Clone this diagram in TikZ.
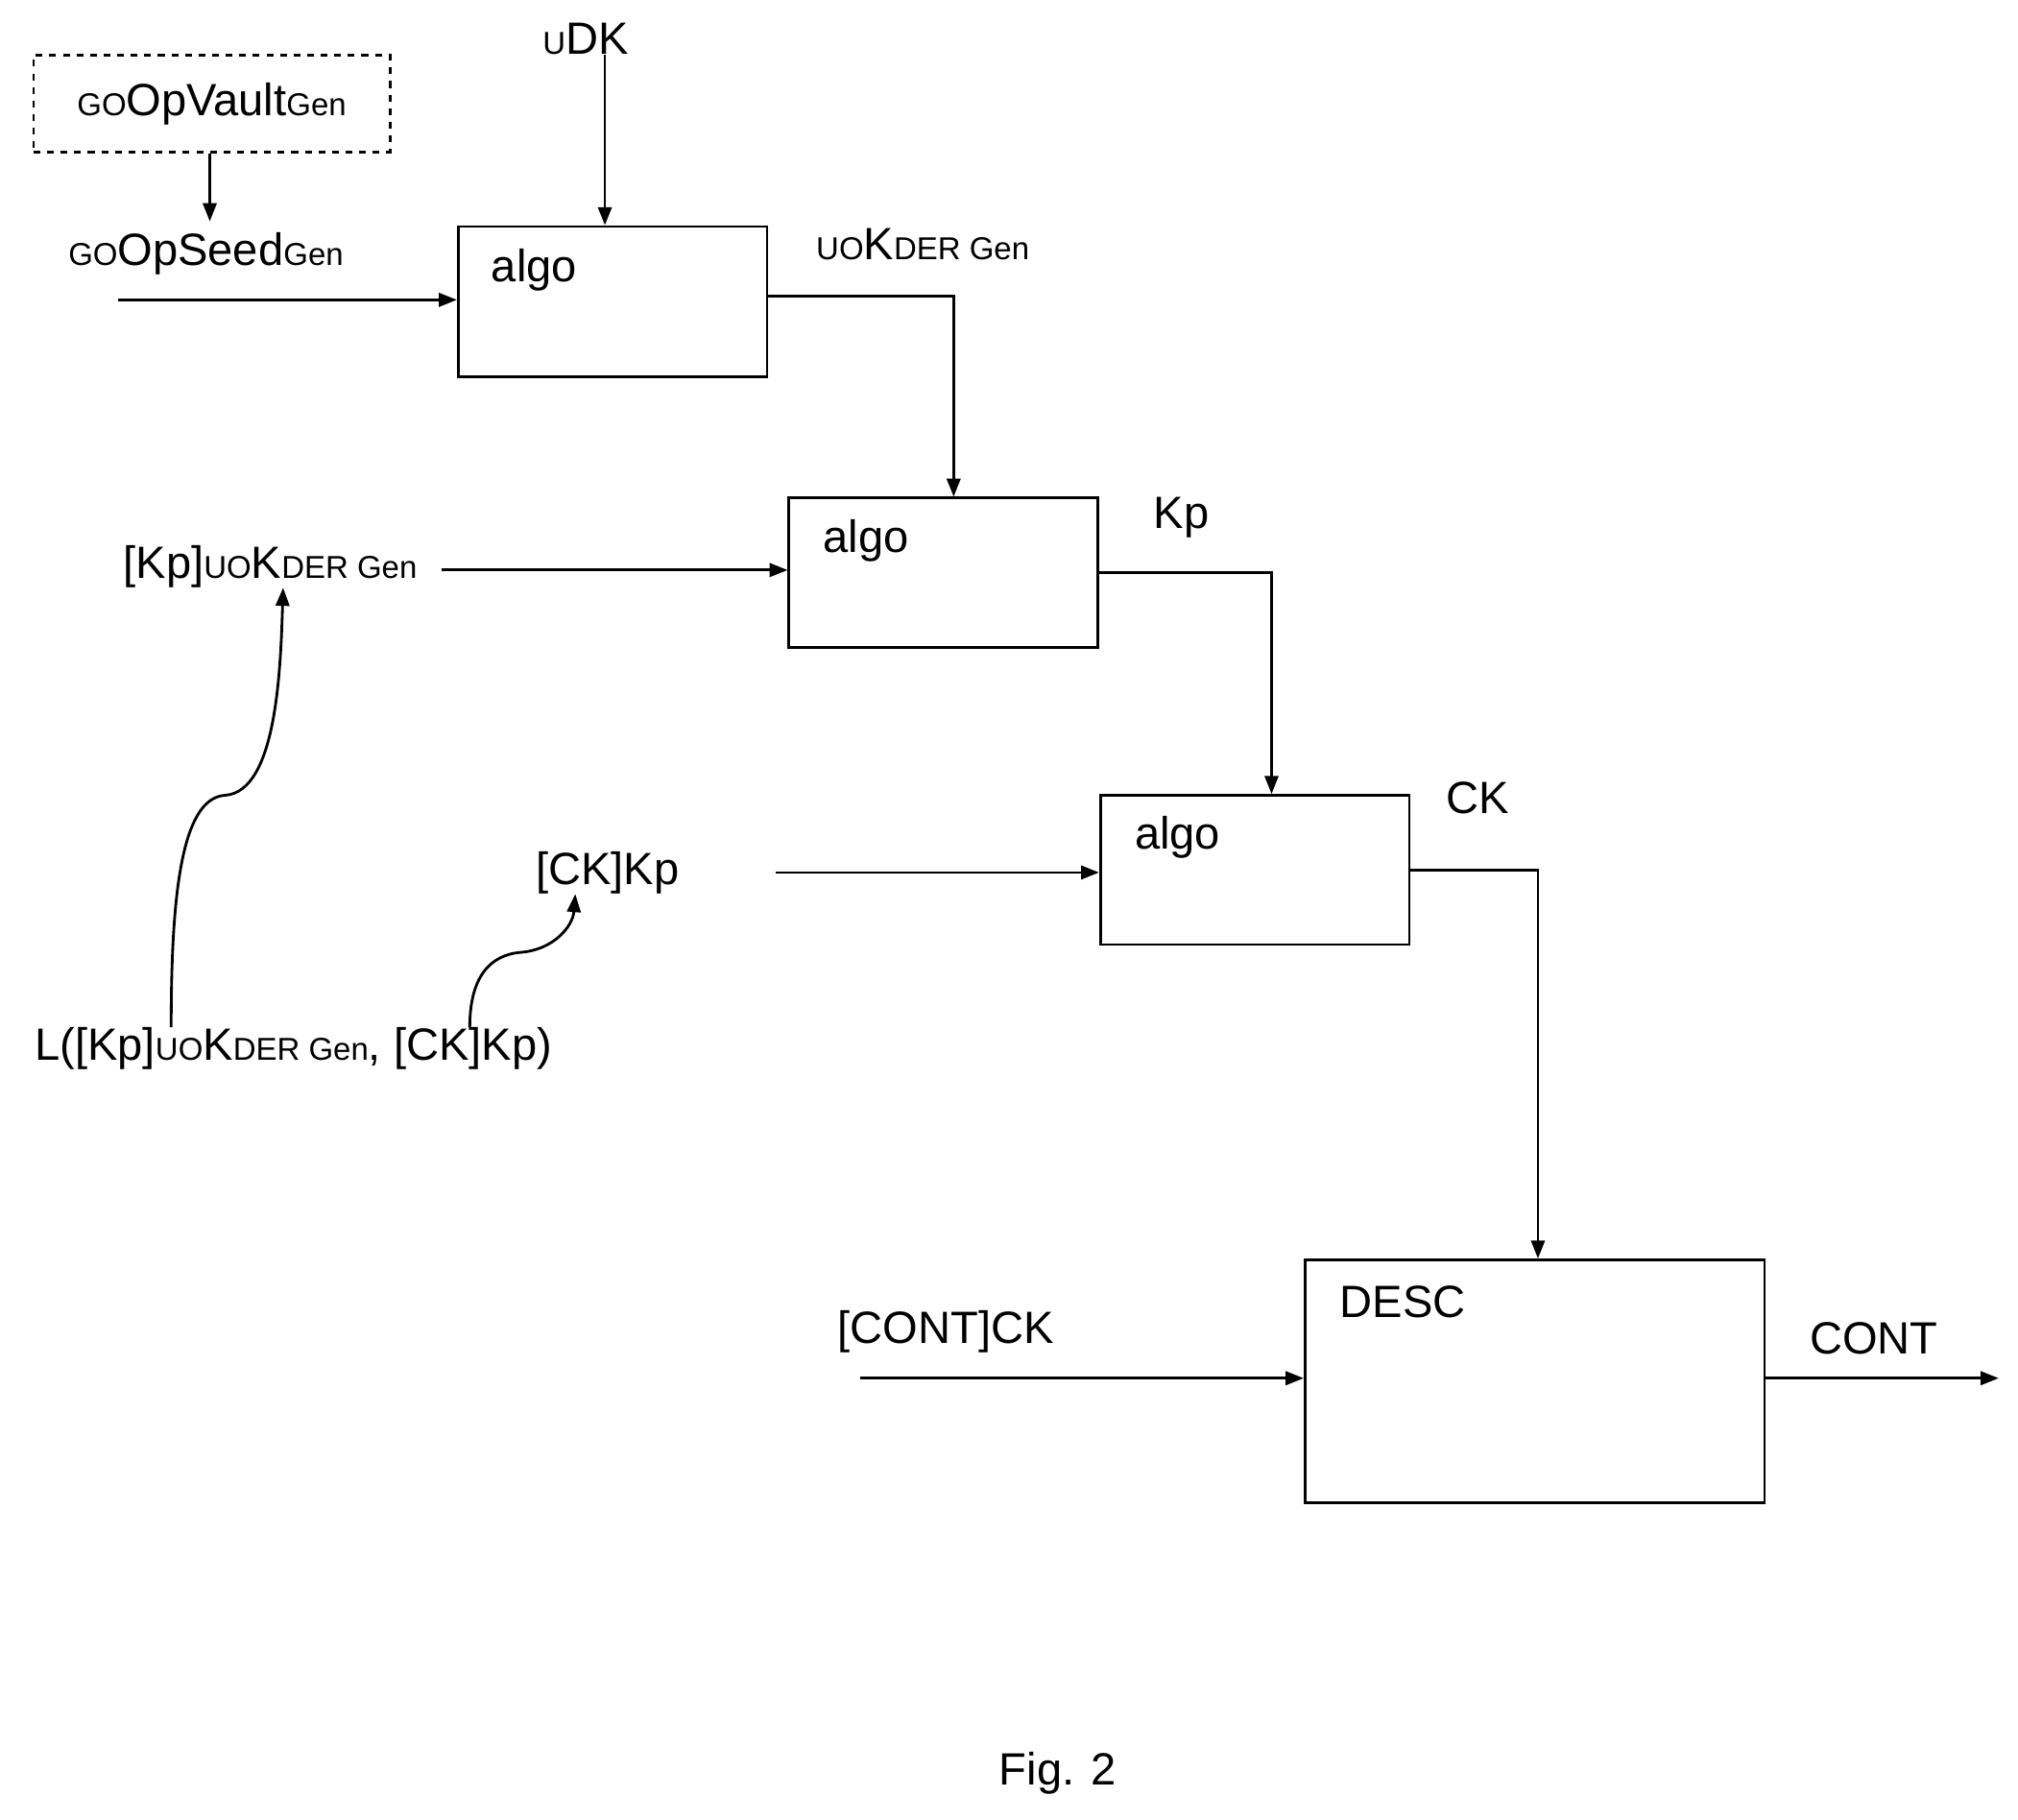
\documentclass[tikz,border=0pt]{standalone}
\usepackage{fontspec}
\setmainfont{Liberation Sans}
\usetikzlibrary{positioning}
\usetikzlibrary{calc}
\usetikzlibrary{arrows.meta}

\newcommand{\sm}[1]{{\fontsize{14}{16}\selectfont #1}}

\begin{document}
\begin{tikzpicture}[x=0.02cm, y=-0.02cm, >={Triangle[length=8pt,width=6pt]},
  txt/.style={inner sep=0pt, font=\fontsize{20}{24}\selectfont},
  blk/.style={draw, line width=1.2pt, inner sep=0pt, anchor=north west}]

\useasboundingbox (0,0) rectangle (1568,1414);

\node [blk, dashed, minimum width=277*0.02cm, minimum height=75*0.02cm] (vault) at (25,42) {};
\node [txt] at (vault.center) {\sm{GO}OpVault\sm{Gen}};
\node [txt] (seed) at (160,197) {\sm{GO}OpSeed\sm{Gen}};
\coordinate (seedtop) at (163,172);
\coordinate (seedin) at (92,233);

\node [blk, minimum width=240*0.02cm, minimum height=117*0.02cm] (a1) at (355,175) {};
\node [txt] at (415,210) {algo};
\node [txt] (udk) at (455,30) {\sm{U}DK};
\node [txt] (uok) at (717,190) {\sm{UO}K\sm{DER Gen}};

\node [blk, minimum width=240*0.02cm, minimum height=116*0.02cm] (a2) at (612,386) {};
\node [txt] at (673,420) {algo};
\node [txt] (kpuok) at (210,440) {[Kp]\sm{UO}K\sm{DER Gen}};
\coordinate (kpin) at (343,443);
\node [txt] (kp) at (918,402) {Kp};

\node [blk, minimum width=240*0.02cm, minimum height=116*0.02cm] (a3) at (854,617) {};
\node [txt] at (915,651) {algo};
\node [txt] (ckkp) at (472,678) {[CK]Kp};
\coordinate (ckin) at (603,678);
\node [txt] (ck) at (1148,620) {CK};

\node [blk, minimum width=357*0.02cm, minimum height=189*0.02cm] (desc) at (1013,978) {};
\node [txt] at (1090,1012) {DESC};
\node [txt] (contck) at (735,1035) {[CONT]CK};
\coordinate (contin) at (668,1071);
\node [txt] (cont) at (1456,1040) {CONT};
\coordinate (contout) at (1553,1071);

\node [txt] (list) at (228,815) {L([Kp]\sm{UO}K\sm{DER Gen}, [CK]Kp)};
\node [txt] at (822,1378) {Fig. 2};

\draw [->, line width=1.2pt] (vault.south -| seedtop) -- (seedtop);
\draw [->, line width=1.2pt] (seedin) -- (a1.west |- seedin);
\draw [->, line width=1.2pt] (udk.south -| 470,0) -- (a1.north -| 470,0);
\draw [->, line width=1.2pt] ($(a1.north east)+(0,55)$) -| (a2.north -| 741,0);
\draw [->, line width=1.2pt] (kpin) -- (a2.west |- kpin);
\draw [->, line width=1.2pt] ($(a2.north east)+(0,59)$) -| (a3.north -| 988,0);
\draw [->, line width=1.2pt] (ckin) -- (a3.west |- ckin);
\draw [->, line width=1.2pt] ($(a3.north east)+(0,59)$) -| (desc.north -| 1195,0);
\draw [->, line width=1.2pt] (contin) -- (desc.west |- contin);
\draw [->, line width=1.2pt] (desc.east |- contout) -- (contout);

\draw [->, line width=1.2pt] (list.north -| 133,0) .. controls (133,700) and (140,620) .. (175,618)
  .. controls (215,615) and (218,520) .. (kpuok.south -| 220,0);
\draw [->, line width=1.2pt] (list.north -| 365,0) .. controls (365,760) and (380,742) .. (405,740)
  .. controls (430,738) and (445,720) .. (ckkp.south -| 447,0);

\end{tikzpicture}
\end{document}
